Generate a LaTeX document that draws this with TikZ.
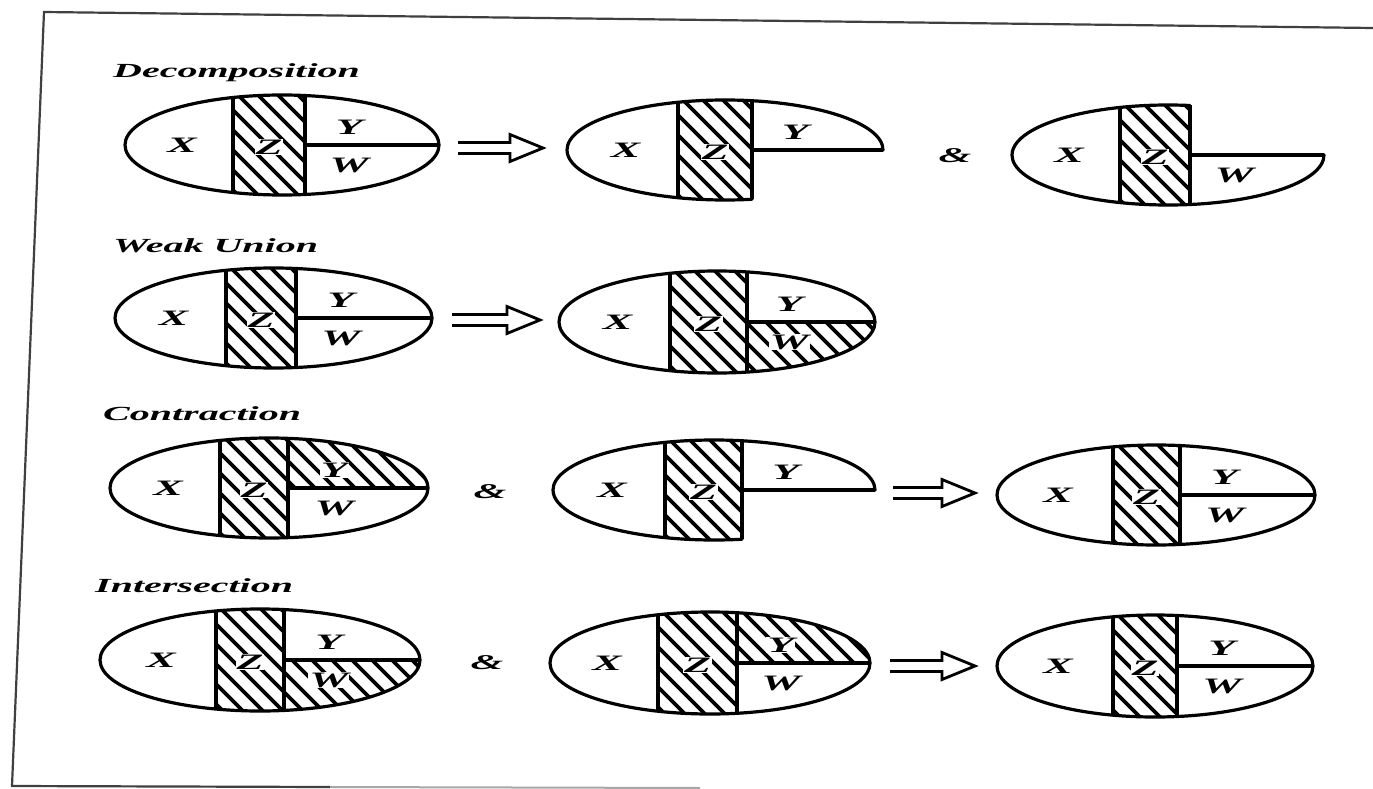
\documentclass[tikz,border=0pt]{standalone}
\usepackage{fontspec}
\newfontfamily\tbi[FakeStretch=2.0]{Liberation Serif}
\usetikzlibrary{calc}
\tikzset{
  outline/.style={line width=3.2pt, line join=round},
  hatchline/.style={line width=3.6pt},
  lbl/.style={font=\tbi\bfseries\itshape\fontsize{22}{26}\selectfont, inner sep=1pt, fill=white},
  amp/.style={font=\tbi\bfseries\itshape\fontsize{21}{25}\selectfont, inner sep=0pt},
  ttl/.style={font=\tbi\bfseries\itshape\fontsize{20}{24}\selectfont, inner sep=0pt, anchor=base west},
  openarrow/.style={line width=2.8pt, line join=miter,
    to path={($(\tikztostart)+(0,-5.5)$) -- ($(\tikztotarget)+(-33,-5.5)$) -- ($(\tikztotarget)+(-33,-13.5)$) -- (\tikztotarget) -- ($(\tikztotarget)+(-33,13.5)$) -- ($(\tikztotarget)+(-33,5.5)$) -- ($(\tikztostart)+(0,5.5)$)}},
  frame/.style={line width=2.2pt, draw=black!75}
}
% #1 name, #2 cx, #3 cy, #4 rx, #5 ry, #6 zl, #7 zr, #8 type (0 full, 1 Y only, 2 W only), #9 hatch (0 none, 1 Y, 2 W)
\newcommand\vdiag[9]{%
  \pgfmathsetmacro\vtz{acos((#7-#2)/#4)}%
  \pgfmathsetmacro\vhl{#5*sqrt(1-((#6-#2)/#4)^2)}%
  \pgfmathsetmacro\vhr{#5*sqrt(1-((#7-#2)/#4)^2)}%
  \ifcase#8\relax
    \def\vshp{(#2,#3) ellipse [x radius=#4, y radius=#5]}%
  \or
    \def\vshp{(#2+#4,#3) arc [start angle=0, end angle=\vtz-360, x radius=#4, y radius=#5] -- (#7,#3) -- cycle}%
  \or
    \def\vshp{(#2+#4,#3) arc [start angle=0, end angle=360-\vtz, x radius=#4, y radius=#5] -- (#7,#3) -- cycle}%
  \fi
  \begin{scope}
    \clip \vshp;
    \clip (#6,#3-#5-5) rectangle (#7,#3+#5+5);
    \foreach \k in {0,...,14} \draw[hatchline] (#6-160+\k*20,#3-#5-5) -- ++(140,140);
  \end{scope}
  \ifnum#9=1
  \begin{scope}
    \clip \vshp;
    \clip (#7,#3-#5-5) rectangle (#2+#4+5,#3);
    \foreach \k in {0,...,28} \draw[hatchline] (#6-160+\k*20,#3-#5-5) -- ++(140,140);
  \end{scope}
  \fi
  \ifnum#9=2
  \begin{scope}
    \clip \vshp;
    \clip (#7,#3) rectangle (#2+#4+5,#3+#5+5);
    \foreach \k in {0,...,28} \draw[hatchline] (#6-160+\k*20,#3-#5-5) -- ++(140,140);
  \end{scope}
  \fi
  \draw[outline] \vshp;
  \draw[outline] (#6,#3-\vhl) -- (#6,#3+\vhl);
  \draw[outline] (#7,#3-\vhr) -- (#7,#3+\vhr);
  \draw[outline] (#7,#3) -- (#2+#4,#3);
  \node[lbl] (#1x) at ({(#2-#4+#6)/2+3},#3) {X};
  \node[lbl] (#1z) at ({(#6+#7)/2},#3+2) {Z};
  \ifnum#8<2 \node[lbl] (#1y) at ({#7+0.33*(#2+#4-#7)},#3-18) {Y};\fi
  \ifnum#8=1\else \node[lbl] (#1w) at ({#7+0.33*(#2+#4-#7)},#3+20) {W};\fi
}
\begin{document}
\begin{tikzpicture}[x=1pt,y=-1pt]
\useasboundingbox (0,0) rectangle (1373,789);
\fill[white] (0,0) rectangle (1373,789);
% frame
\draw[frame] (1373,28) -- (44,12) -- (12,786) -- (330,787);
\draw[line width=2pt, draw=black!35] (330,787) -- (700,788);
% titles
\node[ttl] (t1) at (113,78) {Decomposition};
\node[ttl] (t2) at (113,252) {Weak Union};
\node[ttl] (t3) at (103,420) {Contraction};
\node[ttl] (t4) at (95,592) {Intersection};
% row 1
\vdiag{da}{282}{145}{157}{50}{233}{305}{0}{0}
\vdiag{db}{725}{150}{158}{50}{678}{752}{1}{0}
\vdiag{dc}{1168}{155}{156}{50}{1120}{1190}{2}{0}
\coordinate (a1s) at (458,148); \coordinate (a1e) at (543,148);
\draw[openarrow] (a1s) to (a1e);
\node[amp] (amp1) at (955,156) {\&};
% row 2
\vdiag{dd}{273.5}{318}{158.5}{50}{226}{296}{0}{0}
\vdiag{de}{717}{322}{158}{51}{670}{747}{0}{2}
\coordinate (a2s) at (452,320); \coordinate (a2e) at (540,320);
\draw[openarrow] (a2s) to (a2e);
% row 3
\vdiag{df}{269}{488}{159}{50}{220}{288}{0}{1}
\vdiag{dg}{714}{490}{161}{50}{665}{742}{1}{0}
\vdiag{dh}{1156}{495}{159}{50}{1113}{1180}{0}{0}
\node[amp] (amp2) at (490,492) {\&};
\coordinate (a3s) at (893,493); \coordinate (a3e) at (975,493);
\draw[openarrow] (a3s) to (a3e);
% row 4
\vdiag{di}{260}{660}{160}{51}{216}{284}{0}{2}
\vdiag{dj}{710}{663}{160}{51}{658}{737}{0}{1}
\vdiag{dk}{1155}{666}{158}{51}{1113}{1177}{0}{0}
\node[amp] (amp3) at (487,663) {\&};
\coordinate (a4s) at (890,666); \coordinate (a4e) at (975,666);
\draw[openarrow] (a4s) to (a4e);
\end{tikzpicture}
\end{document}
